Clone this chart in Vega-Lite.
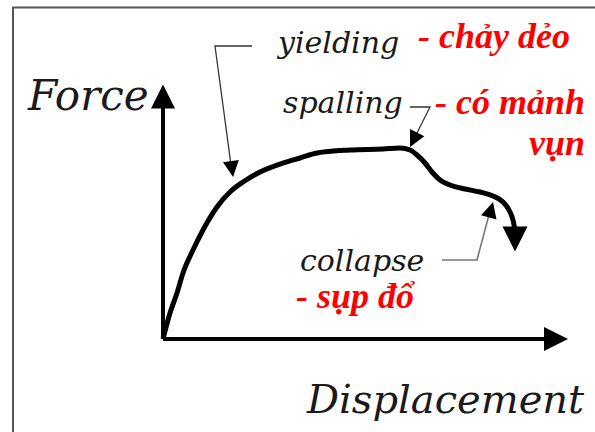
{
  "$schema": "https://vega.github.io/schema/vega-lite/v6.json",
  "width": 595,
  "height": 432,
  "autosize": {"type": "none"},
  "padding": 0,
  "background": "white",
  "config": {"view": {"stroke": null}},
  "datasets": {
    "frame": [{"d": -150, "f": 331.5, "d2": 440, "f2": -110}],
    "curve": [
      {"d": 0, "f": 0}, {"d": 7, "f": 26}, {"d": 14, "f": 46}, {"d": 20, "f": 66},
      {"d": 30, "f": 89}, {"d": 40, "f": 109}, {"d": 54, "f": 132}, {"d": 67, "f": 147},
      {"d": 80, "f": 157}, {"d": 97, "f": 167}, {"d": 120, "f": 176}, {"d": 137, "f": 181},
      {"d": 154, "f": 186}, {"d": 187, "f": 189}, {"d": 220, "f": 190}, {"d": 237, "f": 191},
      {"d": 247, "f": 189}, {"d": 254, "f": 184}, {"d": 262, "f": 176}, {"d": 269, "f": 167},
      {"d": 277, "f": 159}, {"d": 287, "f": 154}, {"d": 302, "f": 150}, {"d": 317, "f": 147},
      {"d": 330, "f": 143}, {"d": 340, "f": 137}, {"d": 346, "f": 129}, {"d": 350, "f": 119},
      {"d": 352, "f": 109}
    ],
    "axes": [
      {"axis": "Force", "d": 0, "f": 0, "d2": 0, "f2": 232},
      {"axis": "Displacement", "d": 0, "f": 0, "d2": 384, "f2": 0}
    ],
    "heads": [
      {"head": "force", "d": 0, "f": 242.5},
      {"head": "displacement", "d": 393, "f": 0},
      {"head": "curve", "d": 352, "f": 100},
      {"head": "yielding", "d": 69, "f": 170},
      {"head": "spalling", "d": 250.6, "f": 199.2},
      {"head": "collapse", "d": 327.9, "f": 129.3}
    ],
    "leaders": [
      {"leader": "yielding", "seq": 1, "d": 89, "f": 293},
      {"leader": "yielding", "seq": 2, "d": 52, "f": 293},
      {"leader": "yielding", "seq": 3, "d": 68, "f": 174},
      {"leader": "spalling", "seq": 1, "d": 247, "f": 232},
      {"leader": "spalling", "seq": 2, "d": 267, "f": 232},
      {"leader": "spalling", "seq": 3, "d": 251, "f": 200},
      {"leader": "collapse", "seq": 1, "d": 279, "f": 79},
      {"leader": "collapse", "seq": 2, "d": 314, "f": 79},
      {"leader": "collapse", "seq": 3, "d": 327, "f": 128}
    ],
    "axisTitles": [
      {"label": "Force", "d": -135, "f": 229},
      {"label": "Displacement", "d": 144, "f": -74}
    ],
    "notes": [
      {"label": "yielding", "d": 115, "f": 286},
      {"label": "spalling", "d": 120, "f": 226},
      {"label": "collapse", "d": 137, "f": 68}
    ],
    "redLeft": [
      {"label": "- chảy dẻo", "d": 255, "f": 291},
      {"label": "- sụp đổ", "d": 133, "f": 31}
    ],
    "redRight": [
      {"label": "- có mảnh", "d": 422, "f": 225},
      {"label": "vụn", "d": 422, "f": 184}
    ]
  },
  "encoding": {
    "x": {"field": "d", "type": "quantitative", "scale": {"domain": [-163, 432], "nice": false, "zero": false}, "axis": null},
    "y": {"field": "f", "type": "quantitative", "scale": {"domain": [-93, 339], "nice": false, "zero": false}, "axis": null}
  },
  "layer": [
    {
      "data": {"name": "frame"},
      "mark": {"type": "rect", "fill": null, "filled": false, "stroke": "#555555", "strokeWidth": 2, "clip": true},
      "encoding": {"x2": {"field": "d2"}, "y2": {"field": "f2"}}
    },
    {
      "data": {"name": "axes"},
      "mark": {"type": "rule", "color": "black", "strokeWidth": 4},
      "encoding": {"x2": {"field": "d2"}, "y2": {"field": "f2"}}
    },
    {
      "data": {"name": "curve"},
      "mark": {"type": "line", "color": "black", "strokeWidth": 5, "interpolate": "monotone", "strokeJoin": "round"},
      "encoding": {}
    },
    {
      "data": {"name": "leaders"},
      "transform": [{"filter": "datum.leader !== 'collapse'"}],
      "mark": {"type": "line", "color": "#333333", "strokeWidth": 1.3},
      "encoding": {"detail": {"field": "leader"}, "order": {"field": "seq"}}
    },
    {
      "data": {"name": "leaders"},
      "transform": [{"filter": "datum.leader === 'collapse'"}],
      "mark": {"type": "line", "color": "#777777", "strokeWidth": 1.6},
      "encoding": {"order": {"field": "seq"}}
    },
    {
      "data": {"name": "heads"},
      "transform": [{"filter": "datum.head === 'force'"}],
      "mark": {"type": "point", "shape": "M0,-1L1,1L-1,1Z", "size": 576, "filled": true, "color": "black", "opacity": 1}
    },
    {
      "data": {"name": "heads"},
      "transform": [{"filter": "datum.head === 'displacement'"}],
      "mark": {"type": "point", "shape": "M1,0L-1,-1L-1,1Z", "size": 576, "filled": true, "color": "black", "opacity": 1}
    },
    {
      "data": {"name": "heads"},
      "transform": [{"filter": "datum.head === 'curve'"}],
      "mark": {"type": "point", "shape": "M-1,-1L1,-1L0,1Z", "size": 625, "filled": true, "color": "black", "opacity": 1}
    },
    {
      "data": {"name": "heads"},
      "transform": [{"filter": "datum.head === 'yielding'"}],
      "mark": {"type": "point", "shape": "M-1,-1L1,-1L0,1Z", "size": 256, "angle": 352.2, "filled": true, "color": "black", "opacity": 1}
    },
    {
      "data": {"name": "heads"},
      "transform": [{"filter": "datum.head === 'spalling'"}],
      "mark": {"type": "point", "shape": "M-1,-1L1,-1L0,1Z", "size": 256, "angle": 26.6, "filled": true, "color": "black", "opacity": 1}
    },
    {
      "data": {"name": "heads"},
      "transform": [{"filter": "datum.head === 'collapse'"}],
      "mark": {"type": "point", "shape": "M0,-1L1,1L-1,1Z", "size": 256, "angle": 15.4, "filled": true, "color": "black", "opacity": 1}
    },
    {
      "data": {"name": "axisTitles"},
      "transform": [{"filter": "datum.label === 'Force'"}],
      "mark": {"type": "text", "font": "DejaVu Serif", "fontStyle": "italic", "fontSize": 42, "align": "left", "baseline": "alphabetic", "color": "#1a1a1a"},
      "encoding": {"text": {"field": "label"}}
    },
    {
      "data": {"name": "axisTitles"},
      "transform": [{"filter": "datum.label === 'Displacement'"}],
      "mark": {"type": "text", "font": "DejaVu Serif", "fontStyle": "italic", "fontSize": 40, "align": "left", "baseline": "alphabetic", "color": "#1a1a1a"},
      "encoding": {"text": {"field": "label"}}
    },
    {
      "data": {"name": "notes"},
      "mark": {"type": "text", "font": "DejaVu Serif", "fontStyle": "italic", "fontSize": 30, "align": "left", "baseline": "alphabetic", "color": "#1a1a1a"},
      "encoding": {"text": {"field": "label"}}
    },
    {
      "data": {"name": "redLeft"},
      "mark": {"type": "text", "font": "Liberation Serif", "fontStyle": "italic", "fontWeight": "bold", "fontSize": 36, "align": "left", "baseline": "alphabetic", "color": "#ff0000"},
      "encoding": {"text": {"field": "label"}}
    },
    {
      "data": {"name": "redRight"},
      "mark": {"type": "text", "font": "Liberation Serif", "fontStyle": "italic", "fontWeight": "bold", "fontSize": 36, "align": "right", "baseline": "alphabetic", "color": "#ff0000"},
      "encoding": {"text": {"field": "label"}}
    }
  ]
}
